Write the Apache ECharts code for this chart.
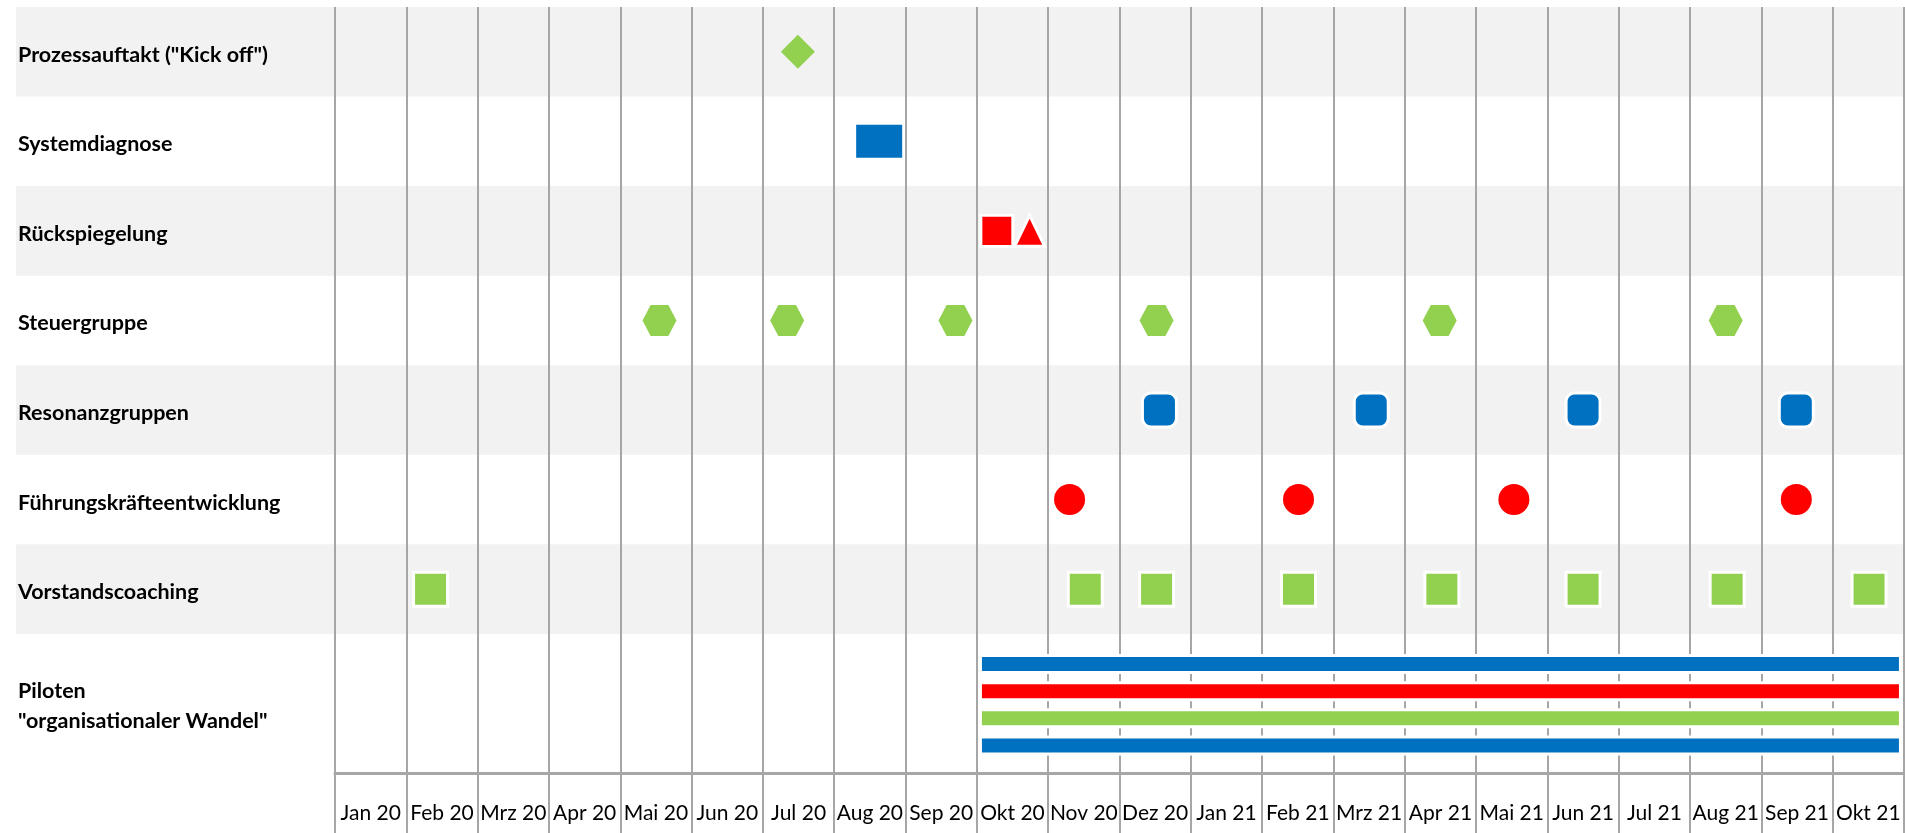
<!DOCTYPE html>
<html>
<head>
<meta charset="utf-8">
<script src="https://cdn.jsdelivr.net/npm/echarts@6/dist/echarts.min.js"></script>
<style>
html,body{margin:0;padding:0;background:#fff;}
#chart{width:1905px;height:833px;}
</style>
</head>
<body>
<div id="chart"></div>
<script>
// ---- data ----
const months = ['Jan 20','Feb 20','Mrz 20','Apr 20','Mai 20','Jun 20','Jul 20','Aug 20','Sep 20','Okt 20','Nov 20','Dez 20',
                'Jan 21','Feb 21','Mrz 21','Apr 21','Mai 21','Jun 21','Jul 21','Aug 21','Sep 21','Okt 21'];
const rows = ['Prozessauftakt ("Kick off")','Systemdiagnose','Rückspiegelung','Steuergruppe','Resonanzgruppen',
              'Führungskräfteentwicklung','Vorstandscoaching','Piloten\n"organisationaler Wandel"'];
// event positions in months since start of Jan 20
const kickoff = [6.49];
const systemdiagnose = [7.63];
const rueckspiegelungSquare = [9.28];
const rueckspiegelungTriangle = [9.74];
const steuergruppe = [4.55, 6.34, 8.70, 11.52, 15.49, 19.50];
const resonanzgruppen = [11.56, 14.53, 17.50, 20.49];
const fuehrung = [10.30, 13.51, 16.53, 20.49];
const vorstand = [1.34, 10.52, 11.52, 13.51, 15.52, 17.50, 19.52, 21.51];
const pilotStart = [9.05, 9.05, 9.05, 9.05];
const pilotEnd = [21.95, 21.95, 21.95, 21.95];

// ---- styling / layout ----
const GREEN = '#92D050', BLUE = '#0070C0', RED = '#FF0000', GRID = '#A6A6A6', BAND = '#F2F2F2';
const pilotColors = [BLUE, RED, GREEN, BLUE];
const lastRowSize = 1.553;           // Piloten row is taller than the others
const yMax = 7 + lastRowSize;
const pilotLane = i => 7 + (30 + i * 27.2) / 89.5;
const labelLeft = 16;
const FONT = 'Lato';

function rowCenter(r){ return r < 7 ? r + 0.5 : 7 + lastRowSize / 2; }
function pts(arr, row){ return arr.map(v => [v, rowCenter(row)]); }

const chart = echarts.init(document.getElementById('chart'), null, {renderer:'canvas'});

const hexagon = 'path://M0,50 L24,0 L76,0 L100,50 L76,100 L24,100 Z';

const option = {
  animation: false,
  grid: {left: 335, right: 1, top: 7, bottom: 60},
  xAxis: [
    {type:'value', min:0, max:22, interval:1, z: 2,
     axisLine:{show:false}, axisTick:{show:false}, axisLabel:{show:false},
     splitLine:{show:true, lineStyle:{color:GRID, width:2}}},
    {type:'category', data: months, position:'bottom', boundaryGap:true, z: 3,
     axisLine:{show:true, lineStyle:{color:GRID, width:3}},
     axisTick:{show:true, length:60, interval:0, lineStyle:{color:GRID, width:2}},
     axisLabel:{show:true, interval:0, margin:30, fontFamily:FONT, fontSize:21, color:'#000'},
     splitLine:{show:false}}
  ],
  yAxis: {type:'value', min:0, max:yMax, inverse:true, show:false},
  series: [
    { // row bands + row labels
      type:'custom', z:1, silent:true, clip:false,
      data: rows.map((r,i)=>[i]),
      renderItem: function(params, api){
        const i = api.value(0);
        const top = api.coord([0, i])[1];
        const bottom = api.coord([0, i < 7 ? i + 1 : yMax])[1];
        const cs = params.coordSys;
        const children = [];
        if (i % 2 === 0 && i < 7) {
          children.push({type:'rect', shape:{x:labelLeft, y:top, width:cs.x + cs.width + 5 - labelLeft, height:bottom-top},
                         style:{fill:BAND}});
        }
        children.push({type:'text', x: labelLeft + 2, y:(top+bottom)/2 + 3,
          style:{text: rows[i], fill:'#000', font:'bold 21.5px ' + FONT, verticalAlign:'middle', align:'left', lineHeight:30}});
        return {type:'group', children};
      }
    },
    {type:'scatter', z:10, symbol:'diamond', symbolSize:[34,34], itemStyle:{color:GREEN, opacity:1}, data: pts(kickoff,0)},
    {type:'scatter', z:10, symbol:'rect', symbolSize:[46,33], itemStyle:{color:BLUE, opacity:1}, data: pts(systemdiagnose,1)},
    {type:'scatter', z:10, symbol:'rect', symbolSize:[32,31], itemStyle:{color:RED, opacity:1, borderColor:'#fff', borderWidth:3}, data: pts(rueckspiegelungSquare,2)},
    {type:'scatter', z:10, symbol:'triangle', symbolSize:[30,31], itemStyle:{color:RED, opacity:1, borderColor:'#fff', borderWidth:3}, data: pts(rueckspiegelungTriangle,2)},
    {type:'scatter', z:10, symbol:hexagon, symbolSize:[34,31], itemStyle:{color:GREEN, opacity:1}, data: pts(steuergruppe,3)},
    {type:'scatter', z:10, symbol:'roundRect', symbolSize:[34,34], itemStyle:{color:BLUE, opacity:1, borderColor:'#fff', borderWidth:3}, data: pts(resonanzgruppen,4)},
    {type:'scatter', z:10, symbol:'circle', symbolSize:31, itemStyle:{color:RED, opacity:1}, data: pts(fuehrung,5)},
    {type:'scatter', z:10, symbol:'rect', symbolSize:[34,34], itemStyle:{color:GREEN, opacity:1, borderColor:'#fff', borderWidth:3}, data: pts(vorstand,6)},
    { // pilot bars
      type:'custom', z:10, clip:false,
      data: pilotStart.map((s,i)=>[s, pilotEnd[i], i]),
      renderItem: function(params, api){
        const i = api.value(2);
        const y = pilotLane(i);
        const p0 = api.coord([api.value(0), y]);
        const p1 = api.coord([api.value(1), y]);
        const h = 17;
        return {type:'rect', shape:{x:p0[0], y:p0[1]-h/2, width:p1[0]-p0[0], height:h},
                style:{fill:pilotColors[i], stroke:'#fff', lineWidth:3}};
      }
    }
  ]
};
chart.setOption(option);
</script>
</body>
</html>
